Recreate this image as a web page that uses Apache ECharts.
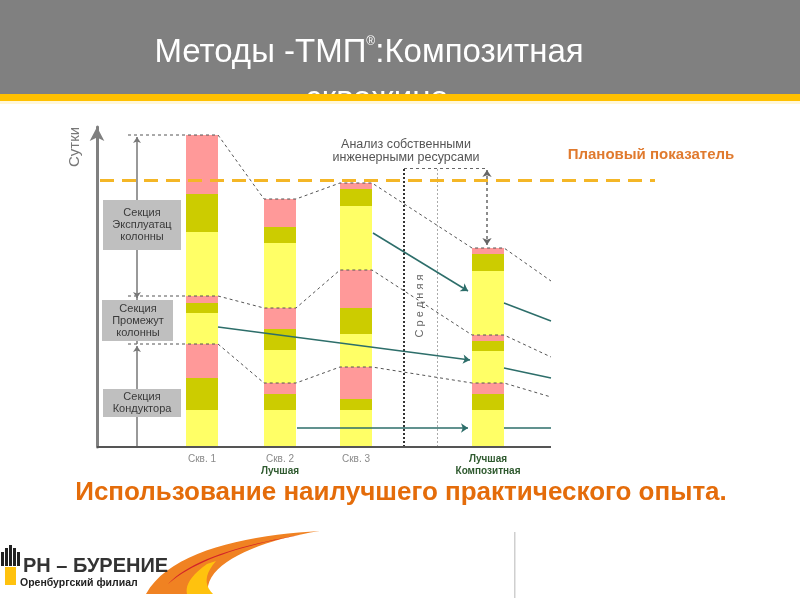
<!DOCTYPE html>
<html><head><meta charset="utf-8">
<script src="https://cdn.jsdelivr.net/npm/echarts@6/dist/echarts.min.js"></script>
<style>html,body{margin:0;padding:0;background:#fff}#c{width:800px;height:600px}</style>
</head><body><div id="c"></div>
<script>
// ---- data ----
const wells = ['Скв. 1', 'Скв. 2', 'Скв. 3', 'Лучшая'];
const wellSub = ['', 'Лучшая', '', 'Композитная'];
const wellPos = [105, 183, 259, 391];          // schematic position on the x axis
// section layers, bottom to top (сутки, schematic units)
const condYellow  = [37, 37, 37, 37];
const condOlive   = [32, 16, 11, 16];
const condPink    = [34, 11, 32, 11];
const interYellow = [31, 33, 33, 32];
const interOlive  = [10, 21, 26, 10];
const interPink   = [7, 21, 38, 6];
const prodYellow  = [64, 65, 64, 64];
const prodOlive   = [38, 16, 17, 17];
const prodPink    = [59, 28, 6, 6];
const planValue = 267;                          // плановый показатель
const tailValues = [50, 90, 166];               // trend of level1, level2, top beyond the best well
const bestInter = [[121, 120], [373, 87]];
const bestInterTail = [[407, 79], [454, 69]];
const bestProd = [[276, 214], [371, 156]];
const bestProdTail = [[407, 144], [454, 126]];
const bestCond = [[200, 19], [371, 19]];
const bestCondTail = [[407, 19], [454, 19]];
const avgX = [307, 340];
const avgTop = 279;
const gapX = 390;

// ---- build ----
const FONT = "'Liberation Sans', Arial, sans-serif";
const YEL = '#FFFF66', OLV = '#CCCC00', PNK = '#FF9999';
const layers = [condYellow, condOlive, condPink, interYellow, interOlive, interPink, prodYellow, prodOlive, prodPink];
const colors = [YEL, OLV, PNK, YEL, OLV, PNK, YEL, OLV, PNK];
const cum = [];
layers.forEach((arr, k) => cum.push(arr.map((v, i) => v + (k ? cum[k - 1][i] : 0))));
const HALF = 16, BW = 32, LEFTX = 31, AXEND = 454;

const series = [];
for (let k = layers.length - 1; k >= 0; k--) {
  series.push({
    type: 'bar', barWidth: BW, barGap: '-100%', z: 2, silent: true,
    data: wellPos.map((x, i) => [x, cum[k][i]]),
    itemStyle: { color: colors[k] }
  });
}
function linesSeries(coordsList, style, symbol, symSize, z) {
  const poly = coordsList.some(c => c.length > 2);
  return {
    type: 'lines', coordinateSystem: 'cartesian2d', polyline: poly, silent: true, z: z || 5,
    symbol: symbol || ['none', 'none'], symbolSize: symSize || 7,
    lineStyle: Object.assign({ opacity: 1, curveness: 0 }, style),
    data: coordsList.map(c => ({ coords: c }))
  };
}
const levels = [cum[2], cum[5], cum[8]];
const connectors = levels.map((L, li) => {
  const c = [[LEFTX, L[0]]];
  wellPos.forEach((x, i) => { c.push([x - HALF, L[i]]); c.push([x + HALF, L[i]]); });
  c.push([AXEND, tailValues[li]]);
  return c;
});
series.push(linesSeries(connectors, { color: '#555', width: 1, type: [3, 3] }));
series.push(linesSeries([[[0, 0], [AXEND, 0]]], { color: '#555', width: 2 }, null, null, 6));
series.push(linesSeries([[[3, planValue], [558, planValue]]], { color: '#F4B626', width: 3, type: [14, 8] }, null, null, 6));
series.push(linesSeries([[[40, 0], [40, cum[2][0] - 2]]], { color: '#777', width: 1.5 }, ['none', 'arrow'], 6));
series.push(linesSeries([[[40, cum[2][0]], [40, cum[5][0]]]], { color: '#777', width: 1.5 }));
series.push(linesSeries([[[40, cum[5][0] - 2], [40, cum[8][0] - 2]]], { color: '#777', width: 1.5 }, ['arrow', 'arrow'], 6));
const TEAL = '#2D6E6A';
series.push(linesSeries([bestInter, bestProd, bestCond], { color: TEAL, width: 1.5 }, ['none', 'arrow'], 7, 7));
series.push(linesSeries([bestInterTail, bestProdTail, bestCondTail], { color: TEAL, width: 1.5 }, null, null, 7));
series.push(linesSeries([[[avgX[0], 0], [avgX[0], avgTop]]], { color: '#333', width: 2, type: [2, 2] }));
series.push(linesSeries([[[avgX[1], 0], [avgX[1], avgTop]]], { color: '#aaa', width: 1, type: [2, 2] }));
series.push(linesSeries([[[avgX[0], avgTop], [gapX, avgTop]]], { color: '#666', width: 1, type: [3, 3] }));
series.push(linesSeries([[[gapX, avgTop - 2], [gapX, cum[8][3] + 3]]], { color: '#666', width: 1.5, type: [3, 3] }, ['arrow', 'arrow'], 7));

function bez(p0, p1, p2, p3, n) {
  const pts = [];
  for (let i = 0; i <= n; i++) {
    const t = i / n, u = 1 - t;
    pts.push([u*u*u*p0[0] + 3*u*u*t*p1[0] + 3*u*t*t*p2[0] + t*t*t*p3[0],
              u*u*u*p0[1] + 3*u*u*t*p1[1] + 3*u*t*t*p2[1] + t*t*t*p3[1]]);
  }
  return pts;
}
const swooshOrange = bez([320,531],[250,535],[170,550],[146,594],20).concat(bez([208,594],[203,565],[255,541],[320,531],20));
const swooshRed = bez([300,535],[240,545],[190,560],[168,584],20).concat(bez([168,584],[196,560],[240,546],[300,535],20));
const swooshYellow = bez([207,564],[190,576],[185,586],[187,594],10).concat(bez([213,594],[204,585],[204,575],[216,561],10));

const chart = echarts.init(document.getElementById('c'), null, { renderer: 'canvas' });
chart.setOption({
  animation: false,
  backgroundColor: '#fff',
  grid: { left: 97, right: 145, top: 127, bottom: 153 },
  xAxis: {
    type: 'value', min: 0, max: 558,
    axisLine: { show: false }, splitLine: { show: false },
    axisTick: { show: false },
    axisLabel: {
      customValues: wellPos, margin: 6, fontFamily: FONT,
      formatter: v => {
        const i = wellPos.indexOf(v);
        if (i < 0) return '';
        let s = (i === 3) ? '{g|' + wells[i] + '}' : '{n|' + wells[i] + '}';
        if (wellSub[i]) s += '\n{g|' + wellSub[i] + '}';
        return s;
      },
      rich: {
        n: { fontSize: 10, color: '#8a8a8a', fontFamily: FONT, lineHeight: 12 },
        g: { fontSize: 10, color: '#2F5A2F', fontWeight: 'bold', fontFamily: FONT, lineHeight: 12 }
      }
    }
  },
  yAxis: {
    type: 'value', min: 0, max: 320,
    axisLine: { show: true, lineStyle: { color: '#808080', width: 3 }, symbol: ['none', 'arrow'], symbolSize: [11, 14] },
    axisTick: { show: false }, axisLabel: { show: false }, splitLine: { show: false }
  },
  series: series,
  graphic: [
    { type: 'rect', z: 50, shape: { x: 0, y: 0, width: 800, height: 94 }, style: { fill: '#808080' } },
    { type: 'text', z: 51, x: 369, y: 69, style: { text: '{a|Методы -ТМП}{s|®}{a|:Композитная}', textAlign: 'center', textVerticalAlign: 'bottom', fill: '#fff', font: '33px ' + FONT,
      rich: { a: { fontSize: 33, fill: '#fff', fontFamily: FONT }, s: { fontSize: 12, fill: '#fff', fontFamily: FONT, verticalAlign: 'top', padding: [0, 0, 20, 0] } } } },
    { type: 'text', z: 51, x: 377, y: 83, style: { text: 'скважина', textAlign: 'center', textVerticalAlign: 'top', fill: '#fff', font: '33px ' + FONT } },
    { type: 'rect', z: 52, shape: { x: 0, y: 94, width: 800, height: 7 }, style: { fill: '#FFC000' } },
    { type: 'rect', z: 52, shape: { x: 0, y: 101, width: 800, height: 3 }, style: { fill: '#FFF7DA' } },
    { type: 'rect', z: 51, shape: { x: 0, y: 104, width: 800, height: 16 }, style: { fill: '#fff' } },
    { type: 'text', z: 60, x: 67, y: 167, rotation: Math.PI / 2, style: { text: 'Сутки', fill: '#777', font: '15px ' + FONT, textAlign: 'left', textVerticalAlign: 'top' } },
    { type: 'rect', z: 60, shape: { x: 103, y: 200, width: 78, height: 50 }, style: { fill: '#BFBFBF' } },
    { type: 'text', z: 61, x: 142, y: 225, style: { text: 'Секция\nЭксплуатац\nколонны', fill: '#3a3a3a', font: '11px ' + FONT, textAlign: 'center', textVerticalAlign: 'middle', lineHeight: 12 } },
    { type: 'rect', z: 60, shape: { x: 102, y: 300, width: 71, height: 41 }, style: { fill: '#BFBFBF' } },
    { type: 'text', z: 61, x: 138, y: 321, style: { text: 'Секция\nПромежут\nколонны', fill: '#3a3a3a', font: '11px ' + FONT, textAlign: 'center', textVerticalAlign: 'middle', lineHeight: 12 } },
    { type: 'rect', z: 60, shape: { x: 103, y: 389, width: 78, height: 28 }, style: { fill: '#BFBFBF' } },
    { type: 'text', z: 61, x: 142, y: 403, style: { text: 'Секция\nКондуктора', fill: '#3a3a3a', font: '11px ' + FONT, textAlign: 'center', textVerticalAlign: 'middle', lineHeight: 12 } },
    { type: 'text', z: 61, x: 406, y: 151, style: { text: 'Анализ собственными\nинженерными ресурсами', fill: '#555', font: '12.5px ' + FONT, textAlign: 'center', textVerticalAlign: 'middle', lineHeight: 13 } },
    { type: 'text', z: 61, x: 420, y: 306, rotation: Math.PI / 2, style: { text: 'С р е д н я я', fill: '#666', font: '11px ' + FONT, textAlign: 'center', textVerticalAlign: 'middle' } },
    { type: 'text', z: 61, x: 651, y: 155, style: { text: 'Плановый показатель', fill: '#E07A2E', font: 'bold 15px ' + FONT, textAlign: 'center', textVerticalAlign: 'middle' } },
    { type: 'text', z: 61, x: 401, y: 493, style: { text: 'Использование наилучшего практического опыта.', fill: '#E46C0A', font: 'bold 26px ' + FONT, textAlign: 'center', textVerticalAlign: 'middle' } },
    { type: 'polygon', z: 40, shape: { points: swooshOrange }, style: { fill: '#F08222' } },
    { type: 'polygon', z: 41, shape: { points: swooshRed }, style: { fill: '#D2232A' } },
    { type: 'polygon', z: 41, shape: { points: swooshYellow }, style: { fill: '#FFC20E' } },
    { type: 'rect', z: 42, shape: { x: 1, y: 552, width: 3, height: 14 }, style: { fill: '#222' } },
    { type: 'rect', z: 42, shape: { x: 5, y: 548, width: 3, height: 18 }, style: { fill: '#222' } },
    { type: 'rect', z: 42, shape: { x: 9, y: 545, width: 3, height: 21 }, style: { fill: '#222' } },
    { type: 'rect', z: 42, shape: { x: 13, y: 548, width: 3, height: 18 }, style: { fill: '#222' } },
    { type: 'rect', z: 42, shape: { x: 17, y: 552, width: 3, height: 14 }, style: { fill: '#222' } },
    { type: 'rect', z: 42, shape: { x: 5, y: 567, width: 11, height: 18 }, style: { fill: '#FFC20E' } },
    { type: 'text', z: 45, x: 23, y: 566, style: { text: 'РН – БУРЕНИЕ', fill: '#333', font: 'bold 20px ' + FONT, textAlign: 'left', textVerticalAlign: 'middle' } },
    { type: 'text', z: 45, x: 20, y: 583, style: { text: 'Оренбургский филиал', fill: '#222', font: 'bold 10.5px ' + FONT, textAlign: 'left', textVerticalAlign: 'middle' } },
    { type: 'rect', z: 45, shape: { x: 514, y: 532, width: 1.5, height: 66 }, style: { fill: '#cfcfcf' } }
  ]
});
</script>
</body></html>
